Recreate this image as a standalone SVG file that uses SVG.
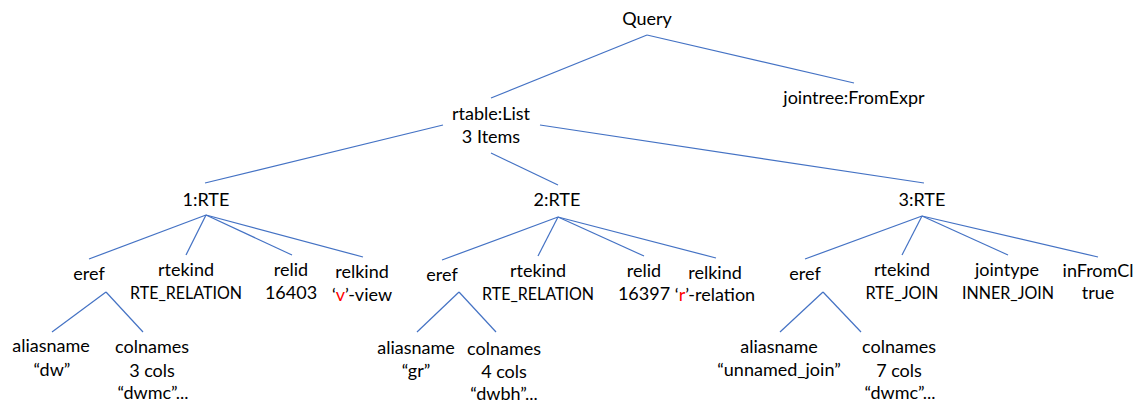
<svg xmlns="http://www.w3.org/2000/svg" width="1145" height="417" viewBox="0 0 1145 417">
<style>
text{font-family:Lato,"Noto Sans",sans-serif;font-size:18px;fill:#000;text-anchor:middle}
.r{fill:#FF0000}
#connectors line{stroke:#4472C4;stroke-width:1.2}
</style>
<rect width="1145" height="417" fill="#fff"/>
<g id="connectors">
<line x1="647" y1="35" x2="491" y2="98"/>
<line x1="647" y1="35" x2="854" y2="83"/>
<line x1="443" y1="125" x2="205" y2="183"/>
<line x1="491" y1="153" x2="558" y2="185"/>
<line x1="540" y1="125" x2="924" y2="183"/>
<line x1="206" y1="215" x2="89" y2="259"/>
<line x1="206" y1="215" x2="186" y2="255"/>
<line x1="206" y1="215" x2="292" y2="255"/>
<line x1="206" y1="215" x2="363" y2="257"/>
<line x1="106" y1="292" x2="52" y2="332"/>
<line x1="106" y1="292" x2="143" y2="332"/>
<line x1="558" y1="217" x2="442" y2="260"/>
<line x1="558" y1="217" x2="538" y2="256"/>
<line x1="558" y1="217" x2="644" y2="256"/>
<line x1="558" y1="217" x2="716" y2="258"/>
<line x1="459" y1="292" x2="417" y2="332"/>
<line x1="459" y1="292" x2="496" y2="332"/>
<line x1="922" y1="216" x2="805" y2="259"/>
<line x1="922" y1="216" x2="902" y2="255"/>
<line x1="922" y1="216" x2="1008" y2="255"/>
<line x1="922" y1="216" x2="1098" y2="257"/>
<line x1="823" y1="292" x2="780" y2="332"/>
<line x1="823" y1="292" x2="861" y2="332"/>
</g>
<g id="query"><text x="647" y="25">Query</text></g>
<g id="jointree"><text x="854" y="104">jointree:FromExpr</text></g>
<g id="rtable"><text x="491" y="120">rtable:List</text><text x="491" y="143">3 Items</text></g>
<g id="rte1"><text x="206" y="206">1:RTE</text></g>
<g id="rte2"><text x="557" y="206">2:RTE</text></g>
<g id="rte3"><text x="922" y="206">3:RTE</text></g>
<g id="rte1-eref"><text x="89" y="280">eref</text></g>
<g id="rte1-rtekind"><text x="186" y="276">rtekind</text><text x="186" y="299" textLength="112" lengthAdjust="spacingAndGlyphs">RTE_RELATION</text></g>
<g id="rte1-relid"><text x="291" y="276">relid</text><text x="291" y="299">16403</text></g>
<g id="rte1-relkind"><text x="362" y="278">relkind</text><text x="362" y="301">‘<tspan class="r">v</tspan>’-view</text></g>
<g id="rte1-aliasname"><text x="51" y="352">aliasname</text><text x="52" y="376">“dw”</text></g>
<g id="rte1-colnames"><text x="152" y="353">colnames</text><text x="152" y="377">3 cols</text><text x="153" y="399">“dwmc”...</text></g>
<g id="rte2-eref"><text x="442" y="281">eref</text></g>
<g id="rte2-rtekind"><text x="538" y="277">rtekind</text><text x="538" y="300" textLength="112" lengthAdjust="spacingAndGlyphs">RTE_RELATION</text></g>
<g id="rte2-relid"><text x="644" y="277">relid</text><text x="644" y="300">16397</text></g>
<g id="rte2-relkind"><text x="715" y="279">relkind</text><text x="715" y="301">‘<tspan class="r">r</tspan>’-relation</text></g>
<g id="rte2-aliasname"><text x="416" y="354">aliasname</text><text x="416" y="377">“gr”</text></g>
<g id="rte2-colnames"><text x="504" y="355">colnames</text><text x="504" y="378">4 cols</text><text x="504" y="400">“dwbh”...</text></g>
<g id="rte3-eref"><text x="805" y="280">eref</text></g>
<g id="rte3-rtekind"><text x="902" y="276">rtekind</text><text x="902" y="299" textLength="73" lengthAdjust="spacingAndGlyphs">RTE_JOIN</text></g>
<g id="rte3-jointype"><text x="1007" y="276">jointype</text><text x="1008" y="299" textLength="92" lengthAdjust="spacingAndGlyphs">INNER_JOIN</text></g>
<g id="rte3-infromcl"><text x="1098" y="277">inFromCl</text><text x="1098" y="299">true</text></g>
<g id="rte3-aliasname"><text x="779" y="353">aliasname</text><text x="779" y="376">“unnamed_join”</text></g>
<g id="rte3-colnames"><text x="899" y="353">colnames</text><text x="899" y="377">7 cols</text><text x="900" y="399">“dwmc”...</text></g>
</svg>
